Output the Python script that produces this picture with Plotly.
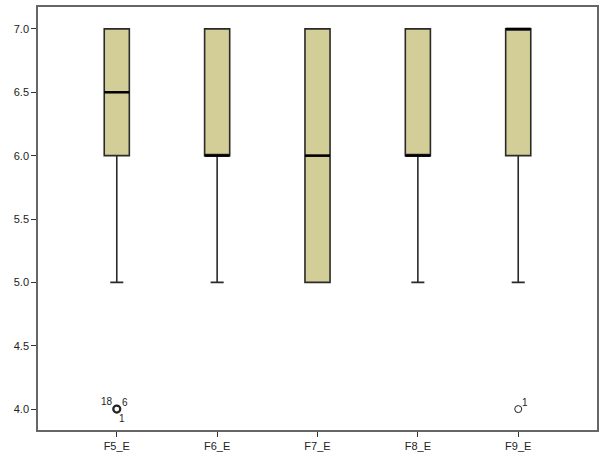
import plotly.graph_objects as go

categories = ["F5_E", "F6_E", "F7_E", "F8_E", "F9_E"]
q1 = [6.0, 6.0, 5.0, 6.0, 6.0]
median = [6.5, 6.0, 6.0, 6.0, 7.0]
q3 = [7.0, 7.0, 7.0, 7.0, 7.0]
lower = [5.0, 5.0, 5.0, 5.0, 5.0]
upper = [7.0, 7.0, 7.0, 7.0, 7.0]
outlier_cat = [0, 4]
outlier_val = [4.0, 4.0]
outlier_labels = [["18", "6", "1"], ["1"]]
y_ticks = [4.0, 4.5, 5.0, 5.5, 6.0, 6.5, 7.0]

xs = list(range(len(categories)))
fill = "#D3CE97"
font = dict(family="Liberation Sans, Arial, sans-serif", size=11, color="#222")

fig = go.Figure()
fig.add_trace(go.Box(
    x=xs, q1=q1, median=median, q3=q3, lowerfence=lower, upperfence=upper,
    width=0.25, whiskerwidth=0.52, fillcolor=fill,
    line=dict(color="#2a2a2a", width=1.6), boxpoints=False, hoverinfo="skip",
    showlegend=False,
))

# thick median lines
hw = 0.125
mx, my = [], []
for x, m in zip(xs, median):
    mx += [x - hw, x + hw, None]
    my += [m, m, None]
fig.add_trace(go.Scatter(x=mx, y=my, mode="lines",
                         line=dict(color="black", width=2.5), showlegend=False,
                         hoverinfo="skip"))

# outliers
widths = [2.2 if len(l) > 1 else 1.0 for l in outlier_labels]
fig.add_trace(go.Scatter(
    x=outlier_cat, y=outlier_val, mode="markers",
    marker=dict(symbol="circle-open", size=7, color="#222",
                line=dict(width=widths, color="#222")),
    showlegend=False, hoverinfo="skip"))

offsets = {
    0: [(-10, -8), (8, -7), (5, 9)],
    1: [(7, -7)],
}
for i, (cx, cy, labs) in enumerate(zip(outlier_cat, outlier_val, outlier_labels)):
    offs = offsets[0] if len(labs) > 1 else offsets[1]
    for lab, (dx, dy) in zip(labs, offs):
        fig.add_annotation(x=cx, y=cy, text=lab, showarrow=False,
                           xshift=dx, yshift=-dy, font=dict(size=10, color="#222",
                           family="Liberation Sans, Arial, sans-serif"))

fig.update_layout(
    width=604, height=465,
    margin=dict(l=38, r=5, t=5, b=35),
    paper_bgcolor="white", plot_bgcolor="white",
    font=font,
    xaxis=dict(range=[-0.785, 4.785], tickmode="array", tickvals=xs,
               ticktext=categories, showgrid=False, zeroline=False,
               showline=True, linecolor="#666", linewidth=1.5, mirror=True,
               ticks="outside", ticklen=5, tickcolor="#333", tickwidth=1),
    yaxis=dict(range=[3.835, 7.173], tickmode="array", tickvals=y_ticks,
               ticktext=[f"{v:.1f}" for v in y_ticks], showgrid=False,
               zeroline=False, showline=True, linecolor="#666", linewidth=1.5,
               mirror=True, ticks="outside", ticklen=5, tickcolor="#333",
               tickwidth=1),
)

fig.write_html("out.html", config={"displayModeBar": False},
               post_script="document.body.style.margin='0';")
